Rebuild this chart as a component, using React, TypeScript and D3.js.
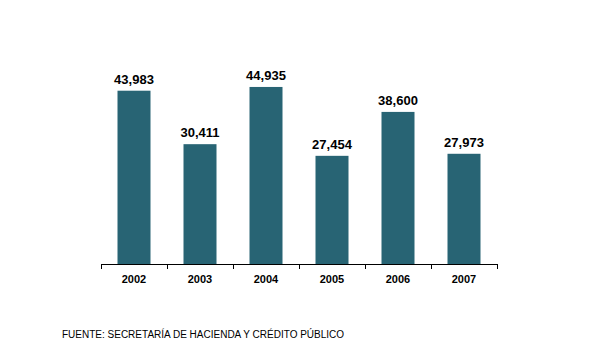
import React, { useEffect, useRef } from 'react';
import * as d3 from 'd3';

const years = ['2002', '2003', '2004', '2005', '2006', '2007'];
const values = [43983, 30411, 44935, 27454, 38600, 27973];
const source = 'FUENTE: SECRETARÍA DE HACIENDA Y CRÉDITO PÚBLICO';

export default function App() {
  const ref = useRef<SVGSVGElement>(null);

  useEffect(() => {
    const svg = d3.select(ref.current);
    svg.selectAll('*').remove();

    const x = d3.scaleBand().domain(years).range([101, 497]).paddingInner(0.5).paddingOuter(0.25);
    const y = d3.scaleLinear().domain([0, 50000]).range([264, 67]);
    const font = 'Arial, "Liberation Sans", sans-serif';

    svg.selectAll('rect.bar')
      .data(values)
      .enter()
      .append('rect')
      .attr('class', 'bar')
      .attr('x', (d, i) => x(years[i])!)
      .attr('y', d => y(d))
      .attr('width', x.bandwidth())
      .attr('height', d => y(0) - y(d))
      .attr('fill', '#286474');

    svg.selectAll('text.val')
      .data(values)
      .enter()
      .append('text')
      .attr('class', 'val')
      .attr('x', (d, i) => x(years[i])! + x.bandwidth() / 2)
      .attr('y', d => y(d) - 7)
      .attr('text-anchor', 'middle')
      .attr('font-family', font)
      .attr('font-weight', 'bold')
      .attr('font-size', 13)
      .text(d => d3.format(',')(d));

    // axis line and ticks between categories
    const step = x.step();
    svg.append('line')
      .attr('x1', 101).attr('x2', 497)
      .attr('y1', 264.5).attr('y2', 264.5)
      .attr('stroke', '#000');
    svg.selectAll('line.tick')
      .data(d3.range(years.length + 1))
      .enter()
      .append('line')
      .attr('class', 'tick')
      .attr('x1', i => 101.5 + i * step).attr('x2', i => 101.5 + i * step)
      .attr('y1', 264).attr('y2', 269)
      .attr('stroke', '#000');

    svg.selectAll('text.year')
      .data(years)
      .enter()
      .append('text')
      .attr('class', 'year')
      .attr('x', d => x(d)! + x.bandwidth() / 2)
      .attr('y', 283)
      .attr('text-anchor', 'middle')
      .attr('font-family', font)
      .attr('font-weight', 'bold')
      .attr('font-size', 11)
      .text(d => d);

    svg.append('text')
      .attr('x', 62)
      .attr('y', 338)
      .attr('font-family', font)
      .attr('font-size', 10)
      .text(source);
  }, []);

  return <svg ref={ref} width={600} height={360} style={{ position: 'absolute', left: 0, top: 0 }} />;
}
